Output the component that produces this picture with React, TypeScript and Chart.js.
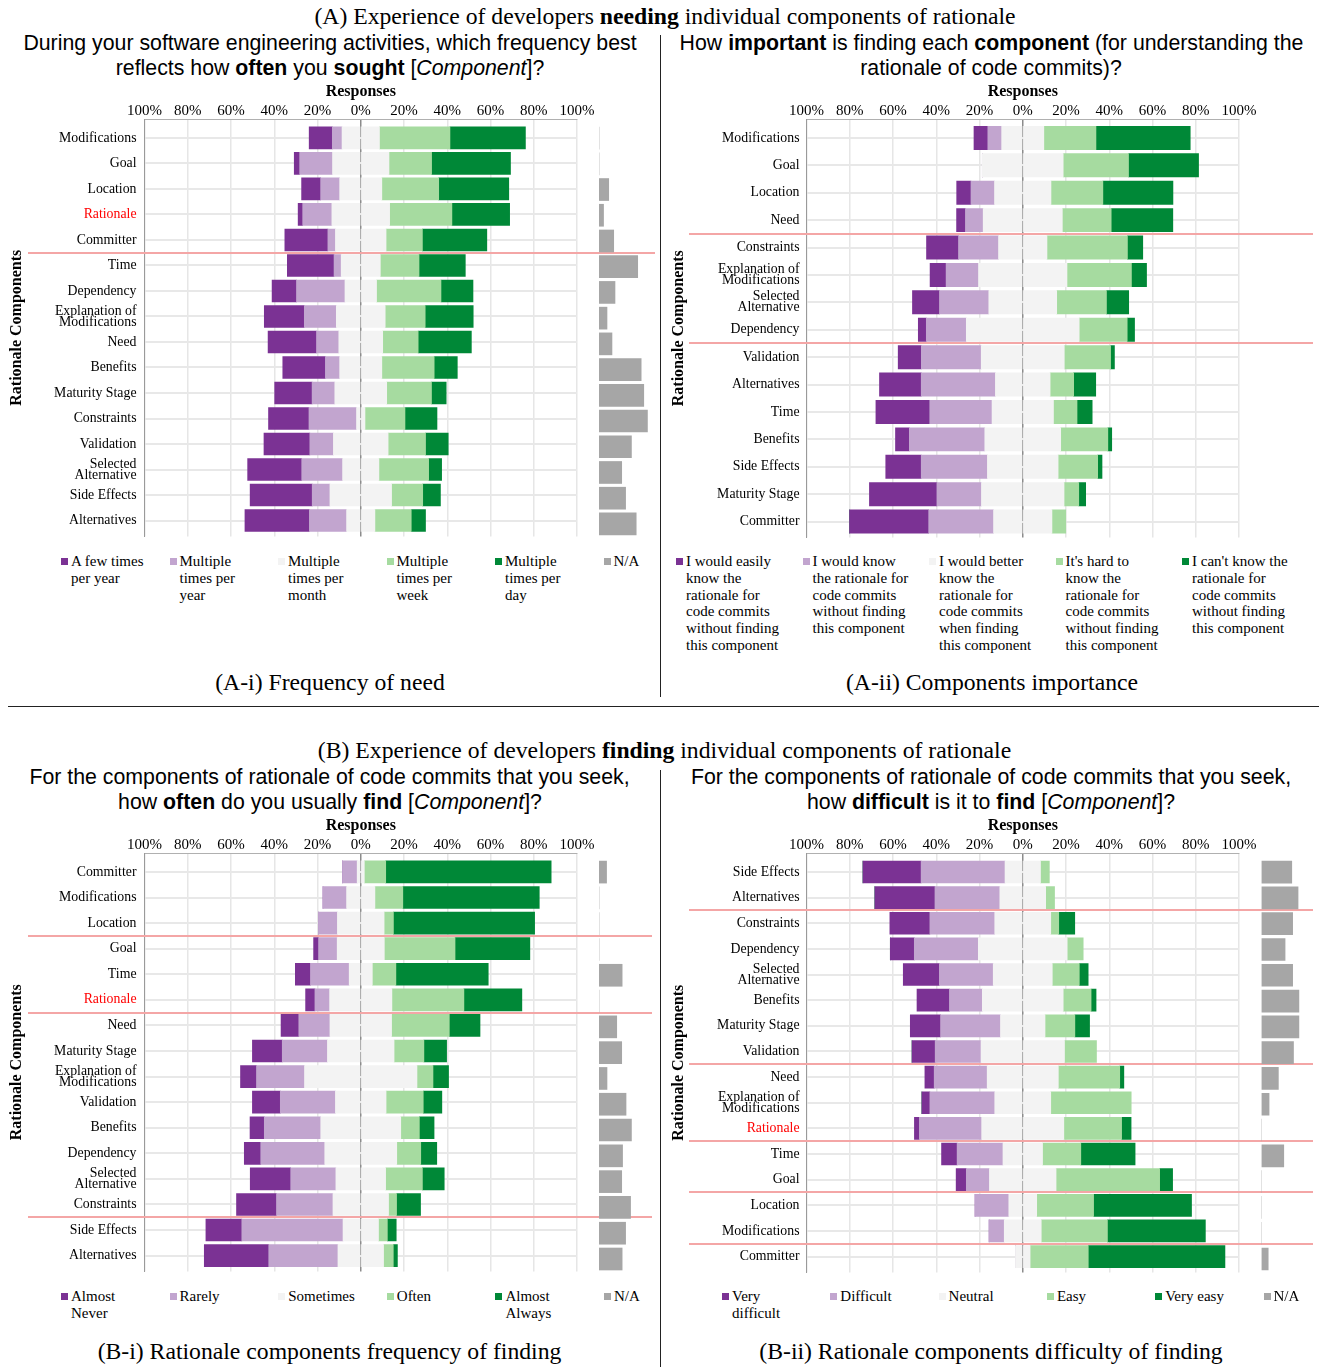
import React, { useEffect, useRef } from 'react';
import { Chart, registerables } from 'chart.js';

Chart.register(...registerables);

const SERIF = "'Liberation Serif', 'Times New Roman', serif";
const SANS = "'Liberation Sans', Arial, sans-serif";

// ---------- (A-i) Frequency of need ----------
const needCategories = ['Modifications', 'Goal', 'Location', 'Rationale', 'Committer', 'Time', 'Dependency', 'Explanation of Modifications', 'Need', 'Benefits', 'Maturity Stage', 'Constraints', 'Validation', 'Selected Alternative', 'Side Effects', 'Alternatives'];
const needFewTimesYear = [10.7, 2.5, 8.8, 2.1, 19.9, 21.6, 11.3, 18.5, 22.4, 19.7, 17.3, 18.7, 21.2, 25.0, 28.7, 29.8];
const needMultipleYear = [4.5, 15.2, 8.8, 13.5, 3.5, 3.3, 22.4, 14.8, 10.3, 6.6, 10.5, 22.0, 10.9, 18.9, 8.2, 17.2];
const needMultipleMonth = [17.3, 26.1, 19.5, 26.7, 23.4, 18.1, 14.6, 22.6, 20.3, 19.5, 24.0, 3.9, 25.3, 16.8, 28.5, 13.1];
const needMultipleWeek = [32.6, 19.7, 26.3, 28.8, 16.8, 17.9, 29.8, 18.5, 16.4, 24.2, 20.7, 18.5, 17.3, 23.0, 14.4, 16.8];
const needMultipleDay = [34.9, 36.5, 32.4, 26.7, 29.8, 21.4, 14.8, 22.2, 24.6, 10.7, 6.8, 14.8, 10.5, 6.0, 8.2, 6.6];
const needNA = [0, 0, 4.5, 2.1, 6.8, 17.9, 7.4, 3.7, 6.0, 19.5, 20.7, 22.4, 15.0, 10.5, 12.3, 17.2];
const needGroupEnds = ['Committer'];
const needLegend = ['A few times\nper year', 'Multiple\ntimes per\nyear', 'Multiple\ntimes per\nmonth', 'Multiple\ntimes per\nweek', 'Multiple\ntimes per\nday', 'N/A'];

// ---------- (A-ii) Components importance ----------
const impCategories = ['Modifications', 'Goal', 'Location', 'Need', 'Constraints', 'Explanation of Modifications', 'Selected Alternative', 'Dependency', 'Validation', 'Alternatives', 'Time', 'Benefits', 'Side Effects', 'Maturity Stage', 'Committer'];
const impEasily = [6.4, 0, 6.6, 4.1, 14.8, 7.4, 12.5, 3.7, 10.7, 19.3, 24.9, 6.4, 16.4, 31.2, 36.6];
const impWouldKnow = [6.4, 0, 10.9, 8.2, 18.5, 15.0, 22.8, 18.5, 27.7, 34.3, 28.8, 34.9, 30.6, 20.6, 30.0];
const impBetterWhenFinding = [19.5, 37.4, 26.1, 36.6, 22.4, 40.9, 31.4, 52.2, 38.4, 25.3, 28.4, 35.1, 32.7, 38.2, 27.0];
const impHard = [24.1, 30.2, 24.0, 22.6, 37.2, 29.8, 23.0, 22.2, 21.4, 10.9, 10.9, 21.8, 18.3, 6.8, 6.4];
const impCannot = [43.6, 32.4, 32.4, 28.5, 7.1, 7.0, 10.3, 3.4, 1.8, 10.2, 7.0, 1.8, 2.0, 3.2, 0];
const impGroupEnds = ['Need', 'Dependency'];
const impLegend = [
  'I would easily\nknow the\nrationale for\ncode commits\nwithout finding\nthis component',
  'I would know\nthe rationale for\ncode commits\nwithout finding\nthis component',
  'I would better\nknow the\nrationale for\ncode commits\nwhen finding\nthis component',
  "It's hard to\nknow the\nrationale for\ncode commits\nwithout finding\nthis component",
  "I can't know the\nrationale for\ncode commits\nwithout finding\nthis component",
];

// ---------- (B-i) Frequency of finding ----------
const findCategories = ['Committer', 'Modifications', 'Location', 'Goal', 'Time', 'Rationale', 'Need', 'Maturity Stage', 'Explanation of Modifications', 'Validation', 'Benefits', 'Dependency', 'Selected Alternative', 'Constraints', 'Side Effects', 'Alternatives'];
const findAlmostNever = [0, 0, 0, 2.3, 7.0, 4.3, 8.2, 13.8, 7.4, 12.9, 6.6, 7.6, 18.7, 18.5, 16.6, 29.8];
const findRarely = [6.8, 10.9, 8.8, 8.6, 17.9, 6.8, 14.4, 20.9, 22.2, 25.5, 26.1, 29.6, 20.9, 26.1, 46.8, 32.0];
const findSometimes = [3.3, 13.1, 21.6, 21.8, 10.7, 28.8, 28.5, 30.8, 52.0, 23.4, 37.0, 33.3, 23.0, 25.7, 16.4, 21.1];
const findOften = [9.9, 12.9, 4.3, 32.7, 10.9, 33.3, 26.7, 13.8, 7.4, 17.2, 8.6, 11.1, 17.0, 3.7, 4.1, 4.5];
const findAlmostAlways = [76.5, 63.1, 65.3, 34.6, 42.7, 26.8, 14.2, 10.5, 7.2, 8.6, 6.8, 7.4, 10.1, 11.1, 4.1, 1.9];
const findNA = [3.5, 0, 0, 0, 10.7, 0, 8.2, 10.5, 3.7, 12.5, 15.0, 10.9, 10.5, 14.6, 12.3, 10.7];
const findGroupEnds = ['Location', 'Rationale', 'Constraints'];
const findLegend = ['Almost\nNever', 'Rarely', 'Sometimes', 'Often', 'Almost\nAlways', 'N/A'];

// ---------- (B-ii) Difficulty of finding ----------
const diffCategories = ['Side Effects', 'Alternatives', 'Constraints', 'Dependency', 'Selected Alternative', 'Benefits', 'Maturity Stage', 'Validation', 'Need', 'Explanation of Modifications', 'Rationale', 'Time', 'Goal', 'Location', 'Modifications', 'Committer'];
const diffVeryDifficult = [26.9, 27.8, 18.5, 11.1, 16.7, 15.0, 14.0, 10.7, 4.3, 3.7, 2.3, 7.2, 4.7, 0, 0, 0];
const diffDifficult = [38.8, 30.0, 30.0, 29.6, 24.9, 15.2, 27.7, 21.2, 24.5, 30.0, 28.8, 21.2, 10.7, 15.6, 7.0, 0];
const diffNeutral = [16.4, 21.2, 25.9, 41.1, 27.3, 37.4, 20.6, 38.6, 32.9, 25.9, 38.0, 18.3, 30.8, 12.9, 17.1, 6.8];
const diffEasy = [4.1, 4.1, 3.7, 7.4, 12.5, 12.9, 13.8, 14.8, 28.4, 37.2, 26.7, 17.7, 47.9, 26.3, 30.6, 26.9];
const diffVeryEasy = [0, 0, 7.4, 0, 4.1, 2.3, 6.8, 0, 1.9, 0, 4.4, 25.1, 6.0, 45.3, 45.3, 63.2];
const diffNA = [14.0, 16.9, 14.4, 10.9, 14.4, 17.3, 17.3, 14.8, 7.8, 3.5, 0, 10.3, 0, 0, 0, 3.1];
const diffGroupEnds = ['Alternatives', 'Validation', 'Rationale', 'Goal', 'Modifications'];
const diffLegend = ['Very\ndifficult', 'Difficult', 'Neutral', 'Easy', 'Very easy', 'N/A'];

const levelColors = ['#7b3294', '#c2a5cf', '#f3f3f3', '#a6dba0', '#008837'];
const naColor = '#a6a6a6';
const legendColors = [...levelColors, naColor];

type PanelSpec = {
  categories: string[];
  levels: number[][];
  na?: number[];
  breaks: string[];
  left: number; top: number; width: number; height: number;
  yAxisWidth: number; padRight: number; axisHeight: number; padBottom: number;
  yMin: number; yMax: number; barThickness: number; labelPad: number;
  sepStart: number; sepEndInset: number;
  naLeft?: number; naWidth?: number; naPadLeft?: number;
};

const panelNeed: PanelSpec = {
  categories: needCategories,
  levels: [needFewTimesYear, needMultipleYear, needMultipleMonth, needMultipleWeek, needMultipleDay],
  na: needNA, breaks: needGroupEnds,
  left: 0, top: 80, width: 658, height: 470,
  yAxisWidth: 144.5, padRight: 81, axisHeight: 39, padBottom: 10,
  yMin: -0.742, yMax: 15.625, barThickness: 22, labelPad: 8,
  sepStart: 28, sepEndInset: 3,
  naLeft: 590, naWidth: 68, naPadLeft: 9,
};
const panelImp: PanelSpec = {
  categories: impCategories,
  levels: [impEasily, impWouldKnow, impBetterWhenFinding, impHard, impCannot],
  breaks: impGroupEnds,
  left: 662, top: 80, width: 655, height: 470,
  yAxisWidth: 144.5, padRight: 78, axisHeight: 39, padBottom: 11,
  yMin: -0.69, yMax: 14.58, barThickness: 23.3, labelPad: 7,
  sepStart: 27, sepEndInset: 4,
};
const panelFind: PanelSpec = {
  categories: findCategories,
  levels: [findAlmostNever, findRarely, findSometimes, findOften, findAlmostAlways],
  na: findNA, breaks: findGroupEnds,
  left: 0, top: 814, width: 658, height: 471,
  yAxisWidth: 144.5, padRight: 81, axisHeight: 39, padBottom: 10,
  yMin: -0.74, yMax: 15.62, barThickness: 22, labelPad: 8,
  sepStart: 28, sepEndInset: 6,
  naLeft: 590, naWidth: 68, naPadLeft: 9,
};
const panelDiff: PanelSpec = {
  categories: diffCategories,
  levels: [diffVeryDifficult, diffDifficult, diffNeutral, diffEasy, diffVeryEasy],
  na: diffNA, breaks: diffGroupEnds,
  left: 662, top: 814, width: 655, height: 471,
  yAxisWidth: 144.5, padRight: 78, axisHeight: 39, padBottom: 10,
  yMin: -0.74, yMax: 15.62, barThickness: 22, labelPad: 7,
  sepStart: 27, sepEndInset: 4,
  naLeft: 1252, naWidth: 65, naPadLeft: 9.5,
};

function wrapLabel(name: string): string | string[] {
  if (!name) return '';
  if (name.length <= 16) return name;
  const k = name.lastIndexOf(' ');
  return [name.slice(0, k), name.slice(k + 1)];
}

function DivergingPanel({ spec }: { spec: PanelSpec }) {
  const mainRef = useRef<HTMLCanvasElement>(null);
  const naRef = useRef<HTMLCanvasElement>(null);

  useEffect(() => {
    const s = spec;
    const charts: Chart[] = [];
    const pts = (vals: number[], f: number) => vals.map((v, i) => ({ x: v * f, y: i }));
    const [l0, l1, l2, l3, l4] = s.levels;
    const ds = (data: any[], color: string) => ({
      data, backgroundColor: color, borderWidth: 0, barThickness: s.barThickness,
    });

    const separatorPlugin = {
      id: 'groupSeparators',
      afterDraw(chart: any) {
        const y = chart.scales.y;
        const ctx = chart.ctx;
        ctx.save();
        ctx.strokeStyle = '#f4a6a6';
        ctx.lineWidth = 2;
        for (const name of s.breaks) {
          const i = s.categories.indexOf(name);
          const py = Math.round(y.getPixelForValue(i + 0.5));
          ctx.beginPath();
          ctx.moveTo(s.sepStart, py);
          ctx.lineTo(chart.width - s.sepEndInset, py);
          ctx.stroke();
        }
        ctx.restore();
      },
    };

    const main = new Chart(mainRef.current as HTMLCanvasElement, {
      type: 'bar',
      data: {
        datasets: [
          ds(pts(l2, -0.5), levelColors[2]),
          ds(pts(l1, -1), levelColors[1]),
          ds(pts(l0, -1), levelColors[0]),
          ds(pts(l2, 0.5), levelColors[2]),
          ds(pts(l3, 1), levelColors[3]),
          ds(pts(l4, 1), levelColors[4]),
        ] as any,
      },
      options: {
        indexAxis: 'y',
        responsive: false,
        animation: false,
        events: [],
        layout: { padding: { left: 0, right: s.padRight, top: 0, bottom: s.padBottom } },
        plugins: { legend: { display: false }, tooltip: { enabled: false } },
        scales: {
          x: {
            type: 'linear', position: 'top', min: -100, max: 100, stacked: true,
            afterFit: (sc: any) => { sc.height = s.axisHeight; },
            ticks: {
              stepSize: 20, autoSkip: false, maxRotation: 0, minRotation: 0, padding: 0,
              color: '#000', font: { family: SERIF, size: 15, lineHeight: 1 },
              callback: (v: any) => Math.abs(Number(v)) + '%',
            },
            grid: {
              drawTicks: false,
              color: (c: any) => (c.tick && c.tick.value === 0 ? '#8c8c8c' : '#e6e6e6'),
              lineWidth: 1.5,
            },
            border: { display: true, color: '#b0b0b0', width: 1 },
            title: {
              display: true, text: 'Responses', color: '#000',
              font: { family: SERIF, size: 16, weight: 'bold', lineHeight: 1.2 },
              padding: { top: 2.4, bottom: 0 },
            },
          } as any,
          y: {
            type: 'linear', position: 'left', min: s.yMin, max: s.yMax, reverse: true, stacked: true,
            offset: false,
            afterFit: (sc: any) => { sc.width = s.yAxisWidth; },
            ticks: {
              stepSize: 1, autoSkip: false, includeBounds: false, padding: s.labelPad,
              font: { family: SERIF, size: 13.8, lineHeight: 0.8 },
              color: (c: any) => (s.categories[c.tick && c.tick.value] === 'Rationale' ? '#ff0000' : '#000000'),
              callback: (v: any) => wrapLabel(s.categories[Number(v)]),
            },
            grid: { drawTicks: false, offset: false, color: '#e8e8e8', lineWidth: 2 },
            border: { display: true, color: '#9a9a9a', width: 1 },
            title: {
              display: true, text: 'Rationale Components', color: '#000',
              font: { family: SERIF, size: 16, weight: 'bold', lineHeight: 1.2 },
              padding: { top: 7.4, bottom: 0 },
            },
          } as any,
        },
      },
      plugins: [separatorPlugin],
    });
    charts.push(main);

    if (s.na && naRef.current) {
      const pxPerPct = main.scales.x.width / 200;
      const naMax = ((s.naWidth as number) - (s.naPadLeft as number)) / pxPerPct;
      const naChart = new Chart(naRef.current, {
        type: 'bar',
        data: { datasets: [ds(pts(s.na, 1), naColor)] as any },
        options: {
          indexAxis: 'y',
          responsive: false,
          animation: false,
          events: [],
          layout: { padding: { left: s.naPadLeft, right: 0, top: s.axisHeight, bottom: s.padBottom } },
          plugins: { legend: { display: false }, tooltip: { enabled: false } },
          scales: {
            x: { type: 'linear', display: false, min: 0, max: naMax },
            y: { type: 'linear', display: false, min: s.yMin, max: s.yMax, reverse: true, offset: false, ticks: { stepSize: 1, includeBounds: false } } as any,
          },
        },
      });
      charts.push(naChart);
    }
    return () => charts.forEach((c) => c.destroy());
  }, [spec]);

  return (
    <>
      <canvas ref={mainRef} width={spec.width} height={spec.height}
        style={{ position: 'absolute', left: spec.left, top: spec.top }} />
      {spec.na && (
        <canvas ref={naRef} width={spec.naWidth} height={spec.height}
          style={{ position: 'absolute', left: spec.naLeft, top: spec.top }} />
      )}
    </>
  );
}

function Txt({ x, y, size, family, children }: { x: number; y: number; size: number; family: string; children: any }) {
  return (
    <div style={{
      position: 'absolute', left: x, top: y, transform: 'translate(-50%, -50%)',
      whiteSpace: 'nowrap', fontFamily: family, fontSize: size, lineHeight: 1, color: '#000',
    }}>{children}</div>
  );
}

function Legend({ labels, x0, step, y }: { labels: string[]; x0: number; step: number; y: number }) {
  return (
    <>
      {labels.map((lab, i) => (
        <div key={i} style={{ position: 'absolute', left: x0 + i * step, top: y - 8.35 }}>
          <div style={{ position: 'absolute', left: 0, top: 4.8, width: 7, height: 7, background: legendColors[i] }} />
          <div style={{
            position: 'absolute', left: 10, top: 0, whiteSpace: 'pre', fontFamily: SERIF,
            fontSize: 15, lineHeight: '16.7px', color: '#000',
          }}>{lab}</div>
        </div>
      ))}
    </>
  );
}

const TITLE = 23.7;
const SUB = 21.3;

export default function App() {
  return (
    <div style={{ position: 'absolute', left: 0, top: 0, width: 1319, height: 1367, background: '#fff', overflow: 'hidden' }}>
      <Txt x={665} y={17} size={TITLE} family={SERIF}>(A) Experience of developers <b>needing</b> individual components of rationale</Txt>
      <Txt x={664.5} y={751} size={TITLE} family={SERIF}>(B) Experience of developers <b>finding</b> individual components of rationale</Txt>

      <Txt x={330} y={44} size={SUB} family={SANS}>During your software engineering activities, which frequency best</Txt>
      <Txt x={330} y={69} size={SUB} family={SANS}>reflects how <b>often</b> you <b>sought</b> [<i>Component</i>]?</Txt>
      <Txt x={991.5} y={44} size={SUB} family={SANS}>How <b>important</b> is finding each <b>component</b> (for understanding the</Txt>
      <Txt x={991} y={69} size={SUB} family={SANS}>rationale of code commits)?</Txt>
      <Txt x={329.5} y={778} size={SUB} family={SANS}>For the components of rationale of code commits that you seek,</Txt>
      <Txt x={330} y={803} size={SUB} family={SANS}>how <b>often</b> do you usually <b>find</b> [<i>Component</i>]?</Txt>
      <Txt x={991} y={778} size={SUB} family={SANS}>For the components of rationale of code commits that you seek,</Txt>
      <Txt x={991} y={803} size={SUB} family={SANS}>how <b>difficult</b> is it to <b>find</b> [<i>Component</i>]?</Txt>

      <DivergingPanel spec={panelNeed} />
      <DivergingPanel spec={panelImp} />
      <DivergingPanel spec={panelFind} />
      <DivergingPanel spec={panelDiff} />

      <Legend labels={needLegend} x0={61} step={108.5} y={561.7} />
      <Legend labels={impLegend} x0={676} step={126.5} y={561.7} />
      <Legend labels={findLegend} x0={61} step={108.6} y={1296.5} />
      <Legend labels={diffLegend} x0={722} step={108.3} y={1296.5} />

      <Txt x={330} y={683} size={TITLE} family={SERIF}>(A-i) Frequency of need</Txt>
      <Txt x={992} y={683} size={TITLE} family={SERIF}>(A-ii) Components importance</Txt>
      <Txt x={329.5} y={1352} size={TITLE} family={SERIF}>(B-i) Rationale components frequency of finding</Txt>
      <Txt x={991} y={1352} size={TITLE} family={SERIF}>(B-ii) Rationale components difficulty of finding</Txt>

      <div style={{ position: 'absolute', left: 660, top: 35, width: 1, height: 662, background: '#222' }} />
      <div style={{ position: 'absolute', left: 660, top: 770, width: 1, height: 597, background: '#222' }} />
      <div style={{ position: 'absolute', left: 8, top: 706, width: 1311, height: 1, background: '#222' }} />
    </div>
  );
}
